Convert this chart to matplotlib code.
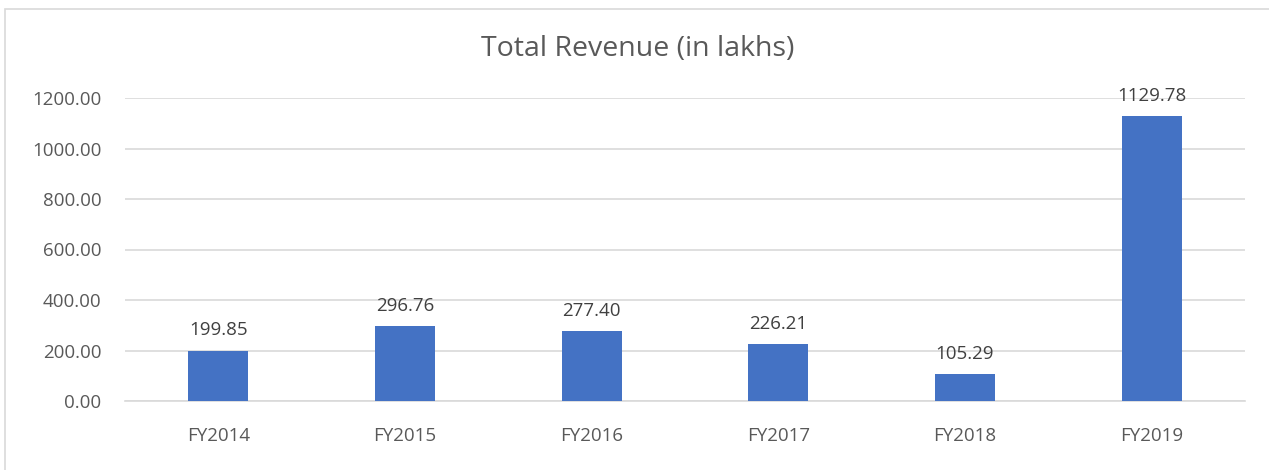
import matplotlib.pyplot as plt
from matplotlib.patches import Rectangle

years = ["FY2014", "FY2015", "FY2016", "FY2017", "FY2018", "FY2019"]
revenue = [199.85, 296.76, 277.40, 226.21, 105.29, 1129.78]
y_ticks = [0, 200, 400, 600, 800, 1000, 1200]

BAR_BLUE = "#4472C4"
GRID_GRAY = "#D9D9D9"
TEXT_GRAY = "#595959"

plt.rcParams["font.family"] = ["Open Sans", "DejaVu Sans"]

fig = plt.figure(figsize=(12.69, 4.70), dpi=100, facecolor="white")

# chart border (only top/left visible in the crop)
fig.patches.append(
    Rectangle((5 / 1269, -0.1), 1.2, 1 - 9 / 470 + 0.1,
              transform=fig.transFigure, fill=False,
              edgecolor="#D9D9D9", linewidth=1.2)
)

ax = fig.add_axes([125 / 1269, 69 / 470, 1120 / 1269, 303 / 470])

x = range(len(years))
ax.bar(x, revenue, width=0.32, color=BAR_BLUE, zorder=3)

for xi, val in zip(x, revenue):
    ax.annotate(f"{val:.2f}", (xi, val), xytext=(0, 8),
                textcoords="offset points", ha="center", va="bottom",
                fontsize=13.5, color="#404040")

ax.set_xlim(-0.5, len(years) - 0.5)
ax.set_ylim(0, 1200)
ax.set_yticks(y_ticks)
ax.set_yticklabels([f"{t:.2f}" for t in y_ticks])
ax.set_xticks(list(x))
ax.set_xticklabels(years)

ax.yaxis.grid(True, color=GRID_GRAY, linewidth=1.2, zorder=0)
ax.tick_params(axis="both", length=0, labelsize=13.5, colors=TEXT_GRAY)
ax.tick_params(axis="y", pad=17)
ax.tick_params(axis="x", pad=19)

for spine in ["top", "right", "left"]:
    ax.spines[spine].set_visible(False)
ax.spines["bottom"].set_color(GRID_GRAY)
ax.spines["bottom"].set_linewidth(1.2)

fig.text(638 / 1269, 1 - 49 / 470, "Total Revenue (in lakhs)",
         ha="center", va="center", fontsize=20.5, color=TEXT_GRAY)

plt.savefig("out.png", dpi=100, facecolor=fig.get_facecolor())
plt.close(fig)
